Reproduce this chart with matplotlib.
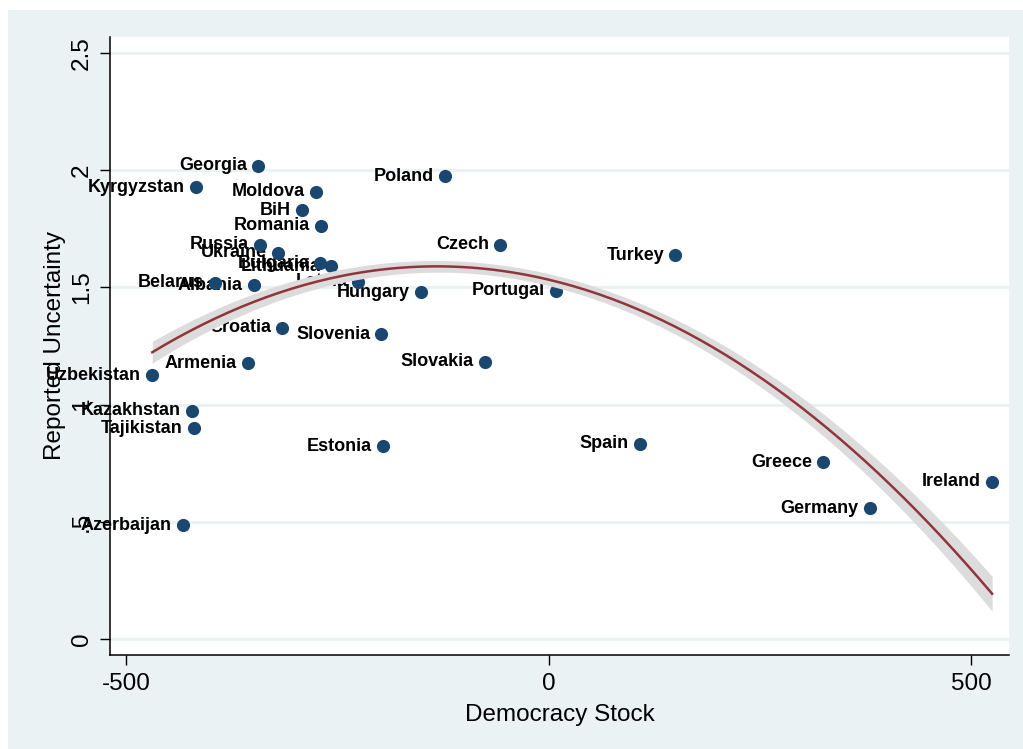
import numpy as np
import matplotlib
matplotlib.use('Agg')
import matplotlib.pyplot as plt
from matplotlib.patches import Rectangle

countries = ['Georgia', 'Kyrgyzstan', 'Moldova', 'Poland', 'BiH', 'Romania', 'Russia',
             'Ukraine', 'Czech', 'Turkey', 'Bulgaria', 'Lithuania', 'Latvia', 'Belarus',
             'Albania', 'Hungary', 'Portugal', 'Croatia', 'Slovenia', 'Armenia', 'Slovakia',
             'Uzbekistan', 'Kazakhstan', 'Tajikistan', 'Azerbaijan', 'Estonia', 'Spain',
             'Greece', 'Germany', 'Ireland']
democracy_stock = [-344, -417, -275, -123, -292, -269, -342,
                   -320, -57, 150, -270, -257, -225, -395,
                   -349, -151, 9, -315, -198, -356, -75,
                   -469, -422, -420, -433, -196, 108,
                   325, 380, 525]
uncertainty = [2.018, 1.928, 1.907, 1.975, 1.830, 1.762, 1.681,
               1.647, 1.681, 1.638, 1.604, 1.591, 1.523, 1.519,
               1.510, 1.480, 1.485, 1.327, 1.301, 1.177, 1.182,
               1.126, 0.973, 0.900, 0.486, 0.823, 0.832,
               0.755, 0.559, 0.670]

# quadratic fit line and CI half-width
fit_x = [-469, -300, -133, 0, 200, 400, 525]
fit_y = [1.224, 1.497, 1.587, 1.540, 1.231, 0.670, 0.196]
ci_half = [0.047, 0.030, 0.025, 0.027, 0.035, 0.055, 0.075]

xticks = [-500, 0, 500]
yticks = [0, 0.5, 1, 1.5, 2, 2.5]
yticklabels = ['0', '.5', '1', '1.5', '2', '2.5']

bg = '#EAF2F3'
navy = '#1A476F'
maroon = '#90353B'

plt.rcParams['font.family'] = ['Liberation Sans', 'DejaVu Sans']
plt.rcParams['axes.unicode_minus'] = False

fig = plt.figure(figsize=(10.23, 7.49), dpi=100, facecolor='white')
fig.patches.append(Rectangle((8 / 1023, 0), 1 - 8 / 1023, 739 / 749,
                             transform=fig.transFigure, facecolor=bg,
                             edgecolor='none', zorder=-10))
ax = fig.add_axes([110 / 1023, 94 / 749, 899 / 1023, 618 / 749])
ax.set_facecolor('white')

x = np.array(democracy_stock, dtype=float)
y = np.array(uncertainty)

# smooth qfit curve through the read values
xg = np.linspace(fit_x[0], fit_x[-1], 200)
yfit = np.polyval(np.polyfit(fit_x, fit_y, 2), xg)
hw = np.polyval(np.polyfit(fit_x, ci_half, 3), xg)

for gy in yticks:
    ax.axhline(gy, color=bg, lw=2.2, zorder=1)

ax.scatter(x, y, s=90, color=navy, zorder=3.5, linewidths=0)
for name, xi, yi in zip(countries, x, y):
    ax.annotate(name, (xi, yi), xytext=(-8, 0), textcoords='offset points',
                ha='right', va='center', fontsize=13, fontweight='bold',
                color='black', zorder=3)

ax.fill_between(xg, yfit - hw, yfit + hw, color='#DCDCDC', lw=0, zorder=4)
ax.plot(xg, yfit, color=maroon, lw=1.8, zorder=5)

ax.set_xlim(-519, 545)
ax.set_ylim(-0.068, 2.568)
ax.set_xticks(xticks)
ax.set_yticks(yticks)
ax.set_yticklabels(yticklabels, rotation=90, va='center')
ax.tick_params(axis='both', labelsize=17.5, length=7.2, width=1, colors='black')
ax.tick_params(axis='x', pad=6)
ax.tick_params(axis='y', pad=5)

for s in ['top', 'right']:
    ax.spines[s].set_visible(False)
for s in ['left', 'bottom']:
    ax.spines[s].set_linewidth(1.1)

ax.set_xlabel('Democracy Stock', fontsize=17.5, labelpad=6)
ax.set_ylabel('Reported Uncertainty', fontsize=17.5, labelpad=4)

fig.savefig('out.png', dpi=100, facecolor='white')
